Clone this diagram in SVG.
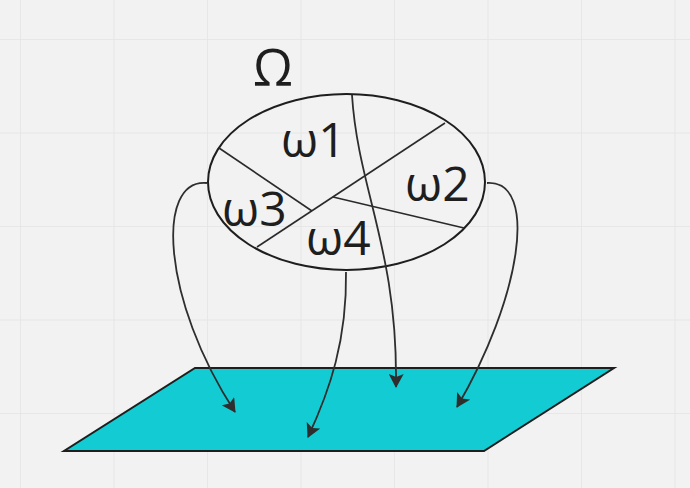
<svg xmlns="http://www.w3.org/2000/svg" width="690" height="488" viewBox="0 0 690 488">
<defs>
<pattern id="grid" x="20" y="39" width="93.5" height="93.5" patternUnits="userSpaceOnUse">
<path d="M0 0 H93.5 M0 0 V93.5" fill="none" stroke="#e4e4e4" stroke-width="1.5"/>
</pattern>
<marker id="arr" viewBox="0 0 15 15" refX="13" refY="7.5" markerWidth="15" markerHeight="15" markerUnits="userSpaceOnUse" orient="auto">
<path d="M0 0 L14 7.5 L0 15 L3 7.5 Z" fill="#2e2e2e"/>
</marker>
<style>
.ln{fill:none;stroke:#2a2a2a;stroke-width:1.6}
.cn{fill:none;stroke:#2e2e2e;stroke-width:1.8;marker-end:url(#arr)}
.t{font-family:"Open Sans","Noto Sans",sans-serif;fill:#1e1e1e}
</style>
</defs>
<rect width="690" height="488" fill="#f2f2f2"/>
<rect width="690" height="488" fill="url(#grid)"/>
<g id="plane">
<polygon points="195,368 614,368 484,451 64,451" fill="#13ccd3" stroke="#1e1e1e" stroke-width="2"/>
</g>
<g id="omega-set">
<ellipse cx="346.5" cy="182" rx="138.5" ry="88" fill="none" stroke="#1e1e1e" stroke-width="2"/>
<line class="ln" x1="445" y1="123" x2="257" y2="247"/>
<line class="ln" x1="219" y1="148" x2="312" y2="211"/>
<line class="ln" x1="333" y1="197" x2="464" y2="228"/>
<text class="t" x="253" y="86" font-size="51">Ω</text>
<text class="t" x="281" y="157" font-size="48">ω1</text>
<text class="t" x="405" y="201" font-size="48">ω2</text>
<text class="t" x="222" y="226" font-size="48">ω3</text>
<text class="t" x="306" y="255" font-size="48">ω4</text>
</g>
<g id="connectors">
<path class="cn" d="M352 95 C358 190, 398 250, 396 387"/>
<path class="cn" d="M207 183 C155 178, 162 300, 235 412"/>
<path class="cn" d="M487 183 C540 180, 520 300, 457 407"/>
<path class="cn" d="M346 272 C347 340, 330 390, 308 437"/>
</g>
</svg>
